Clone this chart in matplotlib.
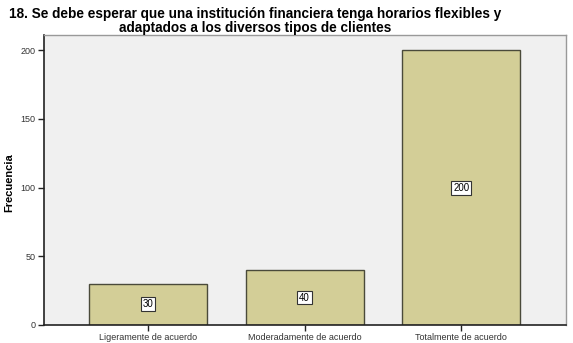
import matplotlib
matplotlib.use("Agg")
import matplotlib.pyplot as plt
import numpy as np

categorias = ["Ligeramente de acuerdo", "Moderadamente de acuerdo", "Totalmente de acuerdo"]
frecuencias = [30, 40, 200]
yticks = [0, 50, 100, 150, 200]

plt.rcParams["font.family"] = ["Liberation Sans", "DejaVu Sans"]

fig = plt.figure(figsize=(5.73, 3.43), dpi=100)
ax = fig.add_axes([44 / 573, 1 - 325 / 343, 522 / 573, 290 / 343])
ax.set_facecolor("#f0f0f0")

x = np.arange(len(categorias))
ax.bar(x, frecuencias, width=0.755, color="#d3ce97", edgecolor="#4a4a3a", linewidth=1.0)

for xi, v in zip(x, frecuencias):
    ax.text(xi, v / 2, str(v), ha="center", va="center", fontsize=7,
            bbox=dict(boxstyle="square,pad=0.2", facecolor="white", edgecolor="#333333", linewidth=0.8))

ax.set_xlim(-0.665, 2.67)
ax.set_ylim(0, 211)
ax.set_xticks(x)
ax.set_xticklabels(categorias, fontsize=6.5, color="#333333")
ax.set_yticks(yticks)
ax.set_yticklabels([str(t) for t in yticks], fontsize=6.5, color="#333333")
ax.tick_params(axis="both", length=4, width=1, color="#222222", pad=2)
ax.set_ylabel("Frecuencia", fontsize=8, fontweight="bold")
ax.yaxis.set_label_coords(-30 / 522, 0.49)

for side in ["top", "right"]:
    ax.spines[side].set_color("#999999")
    ax.spines[side].set_linewidth(1)
for side in ["left", "bottom"]:
    ax.spines[side].set_color("#222222")
    ax.spines[side].set_linewidth(1.2)

fig.text(255 / 573, 1 - 21 / 343, "18. Se debe esperar que una institución financiera tenga horarios flexibles y\nadaptados a los diversos tipos de clientes",
         ha="center", va="center", fontsize=9.8, fontweight="bold", linespacing=0.95)

fig.savefig("out.png", dpi=100)
